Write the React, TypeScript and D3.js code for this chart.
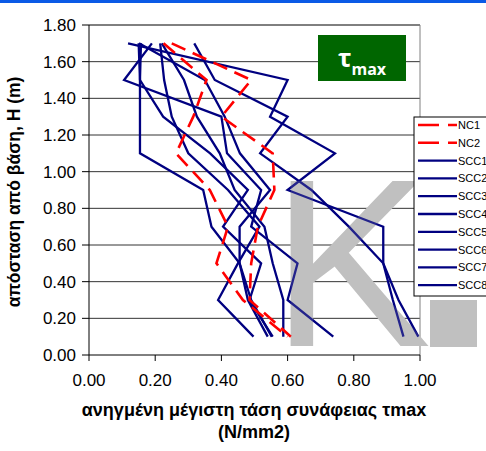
import React from "react";
import * as d3 from "d3";

// heights (m), top to bottom
const heights = [1.7, 1.5, 1.3, 1.1, 0.9, 0.7, 0.5, 0.3, 0.1];

const NC1 = [0.25, 0.49, 0.4, 0.555, 0.56, 0.51, 0.49, 0.485, 0.61];
const NC2 = [0.225, 0.355, 0.315, 0.263, 0.365, 0.42, 0.385, 0.465, 0.6];
const SCC1 = [0.118, 0.6, 0.547, 0.743, 0.6, 0.889, 0.889, 0.918, 0.95];
const SCC2 = [0.318, 0.38, 0.6, 0.517, 0.672, 0.785, 0.889, 0.935, 0.995];
const SCC3 = [0.19, 0.106, 0.4, 0.417, 0.52, 0.49, 0.63, 0.6, 0.738];
const SCC4 = [0.157, 0.154, 0.154, 0.154, 0.345, 0.37, 0.455, 0.48, 0.54];
const SCC5 = [0.215, 0.227, 0.25, 0.3, 0.42, 0.515, 0.45, 0.39, 0.497];
const SCC6 = [0.151, 0.35, 0.41, 0.456, 0.547, 0.455, 0.455, 0.49, 0.552];
const SCC7 = [0.22, 0.287, 0.326, 0.395, 0.44, 0.53, 0.555, 0.587, 0.587];
const SCC8 = [0.15, 0.154, 0.224, 0.366, 0.48, 0.405, 0.52, 0.485, 0.555];

const ncSeries = [NC1, NC2];
const sccSeries = [SCC1, SCC2, SCC3, SCC4, SCC5, SCC6, SCC7, SCC8];
const legendNames = ["NC1", "NC2", "SCC1", "SCC2", "SCC3", "SCC4", "SCC5", "SCC6", "SCC7", "SCC8"];

const xTicks = [0, 0.2, 0.4, 0.6, 0.8, 1.0];
const yTicks = [0, 0.2, 0.4, 0.6, 0.8, 1.0, 1.2, 1.4, 1.6, 1.8];

const NAVY = "#000080";
const RED = "#ff0000";
const FONT = "'Liberation Sans', Arial, sans-serif";

export default function App() {
  const W = 486;
  const Hh = 451;
  const x = d3.scaleLinear().domain([0, 1]).range([89, 420]);
  const y = d3.scaleLinear().domain([0, 1.8]).range([355, 25]);
  const line = d3
    .line<number>()
    .x((d) => x(d))
    .y((_d, i) => y(heights[i]));

  const legX = 414;
  const legY = 117;
  const legStep = 17.8;

  const watermark = (op: number, key: string) => (
    <g key={key} opacity={op} fill="#c0c0c0" fontFamily={FONT}>
      <text x={271} y={346} fontSize={240}>K</text>
      {/* the large full stop of the "K." watermark */}
      <rect x={430} y={300} width={47} height={47} />
    </g>
  );

  return (
    <div style={{ position: "absolute", left: 0, top: 0 }}>
      <svg width={W} height={Hh} style={{ display: "block", background: "#fff" }}>
        <rect x={0} y={0} width={W} height={3} fill="#0a5ae6" />
        {/* gridlines */}
        {yTicks.slice(1).map((t) => (
          <line key={t} x1={89} x2={420} y1={y(t)} y2={y(t)} stroke={t === 1.8 ? "#000" : "#333"} strokeWidth={1} />
        ))}
        <line x1={420} x2={420} y1={25} y2={355} stroke="#808080" strokeWidth={1} />
        {watermark(1, "wm")}
        {/* series */}
        {sccSeries.map((s, i) => (
          <path key={"s" + i} d={line(s) || ""} fill="none" stroke={NAVY} strokeWidth={2.3} strokeLinejoin="miter" />
        ))}
        {ncSeries.map((s, i) => (
          <path key={"n" + i} d={line(s) || ""} fill="none" stroke={RED} strokeWidth={2.6} strokeDasharray="15,8" />
        ))}
        {watermark(0.18, "wm2")}
        {/* axes */}
        <line x1={89} x2={89} y1={25} y2={355} stroke="#000" strokeWidth={1} />
        <line x1={89} x2={420} y1={355} y2={355} stroke="#000" strokeWidth={1} />
        {yTicks.map((t) => (
          <g key={"yt" + t}>
            <line x1={82} x2={89} y1={y(t)} y2={y(t)} stroke="#000" />
            <text x={76} y={y(t) + 6} textAnchor="end" fontFamily={FONT} fontSize={17} fill="#000">
              {t.toFixed(2)}
            </text>
          </g>
        ))}
        {xTicks.map((t) => (
          <g key={"xt" + t}>
            <line x1={x(t)} x2={x(t)} y1={355} y2={361} stroke="#000" />
            <text x={x(t)} y={386} textAnchor="middle" fontFamily={FONT} fontSize={17} fill="#000">
              {t.toFixed(2)}
            </text>
          </g>
        ))}
        {/* axis titles */}
        <text x={254} y={416} textAnchor="middle" fontFamily={FONT} fontWeight="bold" fontSize={18} fill="#000">
          ανηγμένη μέγιστη τάση συνάφειας τmax
        </text>
        <text x={254} y={438} textAnchor="middle" fontFamily={FONT} fontWeight="bold" fontSize={18} fill="#000">
          (N/mm2)
        </text>
        <text
          transform="translate(20,192) rotate(-90)"
          textAnchor="middle"
          fontFamily={FONT}
          fontWeight="bold"
          fontSize={17.5}
          fill="#000"
        >
          απόσταση από βάση, H (m)
        </text>
        {/* tau max box */}
        <rect x={318} y={35} width={88} height={46} fill="#006600" />
        <text x={338} y={67} fontFamily="'Open Sans', sans-serif" fontWeight="bold" fill="#fff">
          <tspan fontSize={25}>τ</tspan>
          <tspan fontSize={16} dy={8}>max</tspan>
        </text>
        {/* legend */}
        <rect x={legX} y={legY} width={90} height={179} fill="#fff" stroke="#000" strokeWidth={1} />
        {legendNames.map((n, i) => {
          const cy = 125 + i * legStep;
          const isNC = i < 2;
          return (
            <g key={n}>
              <line
                x1={418}
                x2={457}
                y1={cy}
                y2={cy}
                stroke={isNC ? RED : NAVY}
                strokeWidth={isNC ? 2.6 : 2.3}
                strokeDasharray={isNC ? "21,9" : undefined}
              />
              <text x={458} y={cy + 4} fontFamily={FONT} fontSize={11} fill="#000">
                {n}
              </text>
            </g>
          );
        })}
      </svg>
    </div>
  );
}
